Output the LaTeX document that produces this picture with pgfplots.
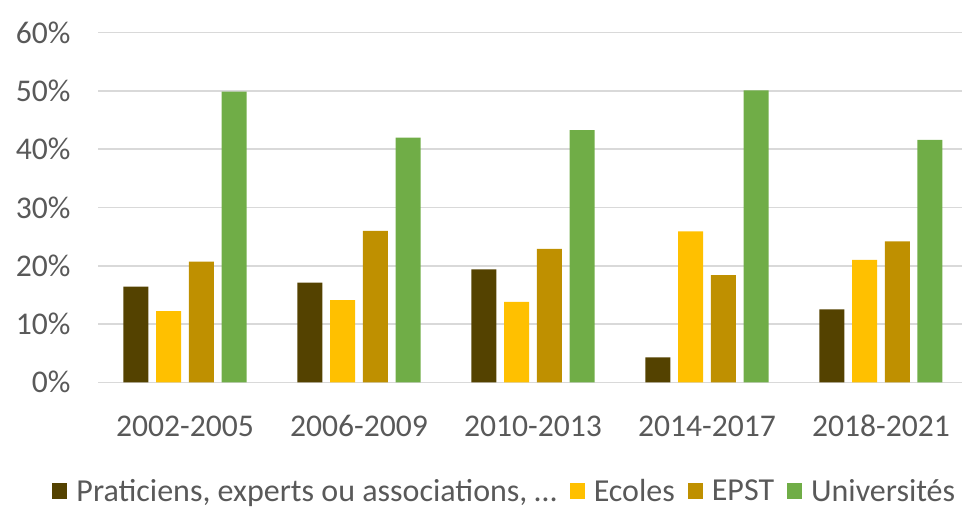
\documentclass[border=0pt]{standalone}
\usepackage{pgfplots}
\pgfplotsset{compat=1.18}
\usepackage{fontspec}
\setmainfont{Carlito}
\definecolor{cDark}{HTML}{544200}
\definecolor{cYellow}{HTML}{FFC000}
\definecolor{cGold}{HTML}{BF9000}
\definecolor{cGreen}{HTML}{70AD47}
\definecolor{cGrid}{HTML}{D9D9D9}
\definecolor{cText}{HTML}{595959}

\begin{document}
\begin{tikzpicture}
\begin{axis}[
    scale only axis,
    width=432pt, height=174.8pt,
    ybar=3.85pt, bar width=12.5pt,
    xmin=-0.5, xmax=4.466,
    ymin=0, ymax=60,
    xtick=data,
    xticklabels={2002-2005,2006-2009,2010-2013,2014-2017,2018-2021},
    ytick={0,10,...,60},
    yticklabel={\pgfmathprintnumber{\tick}\%},
    /pgf/number format/assume math mode=true,
    major tick length=0pt,
    ymajorgrids,
    grid style={cGrid, line width=0.75pt},
    axis x line*=bottom,
    axis y line*=left,
    x axis line style={cGrid, line width=0.75pt, -},
    y axis line style={draw=none},
    ticklabel style={text=cText, font=\fontsize{15.8}{18}\selectfont},
    yticklabel style={xshift=-10.2pt},
    xticklabel style={anchor=base, yshift=-27pt},
    clip=false,
    legend columns=4,
    legend style={at={(0.472,-0.313)}, anchor=center, draw=none, fill=none,
        text=cText, font=\fontsize{16}{18}\selectfont,
        /tikz/every odd column/.append style={column sep=2.5pt},
        /tikz/every even column/.append style={column sep=4.5pt}},
    legend image code/.code={\fill[#1] (0pt,-3.5pt) rectangle (7.5pt,4.5pt);},
]
\addplot[fill=cDark, draw=none] coordinates {(0,16.4) (1,17.1) (2,19.4) (3,4.3) (4,12.5)};
\addplot[fill=cYellow, draw=none] coordinates {(0,12.2) (1,14.1) (2,13.8) (3,25.9) (4,21.0)};
\addplot[fill=cGold, draw=none] coordinates {(0,20.7) (1,26.0) (2,22.9) (3,18.4) (4,24.2)};
\addplot[fill=cGreen, draw=none] coordinates {(0,49.9) (1,42.0) (2,43.3) (3,50.1) (4,41.6)};
\legend{Praticiens{,} experts ou associations{,} …, Ecoles, EPST, Universités}
\coordinate (bl) at (rel axis cs:0,0);
\end{axis}
\pgfresetboundingbox
\path ([shift={(-49pt,-63.35pt)}]bl) rectangle ([shift={(432pt,191.15pt)}]bl);
\end{tikzpicture}
\end{document}
